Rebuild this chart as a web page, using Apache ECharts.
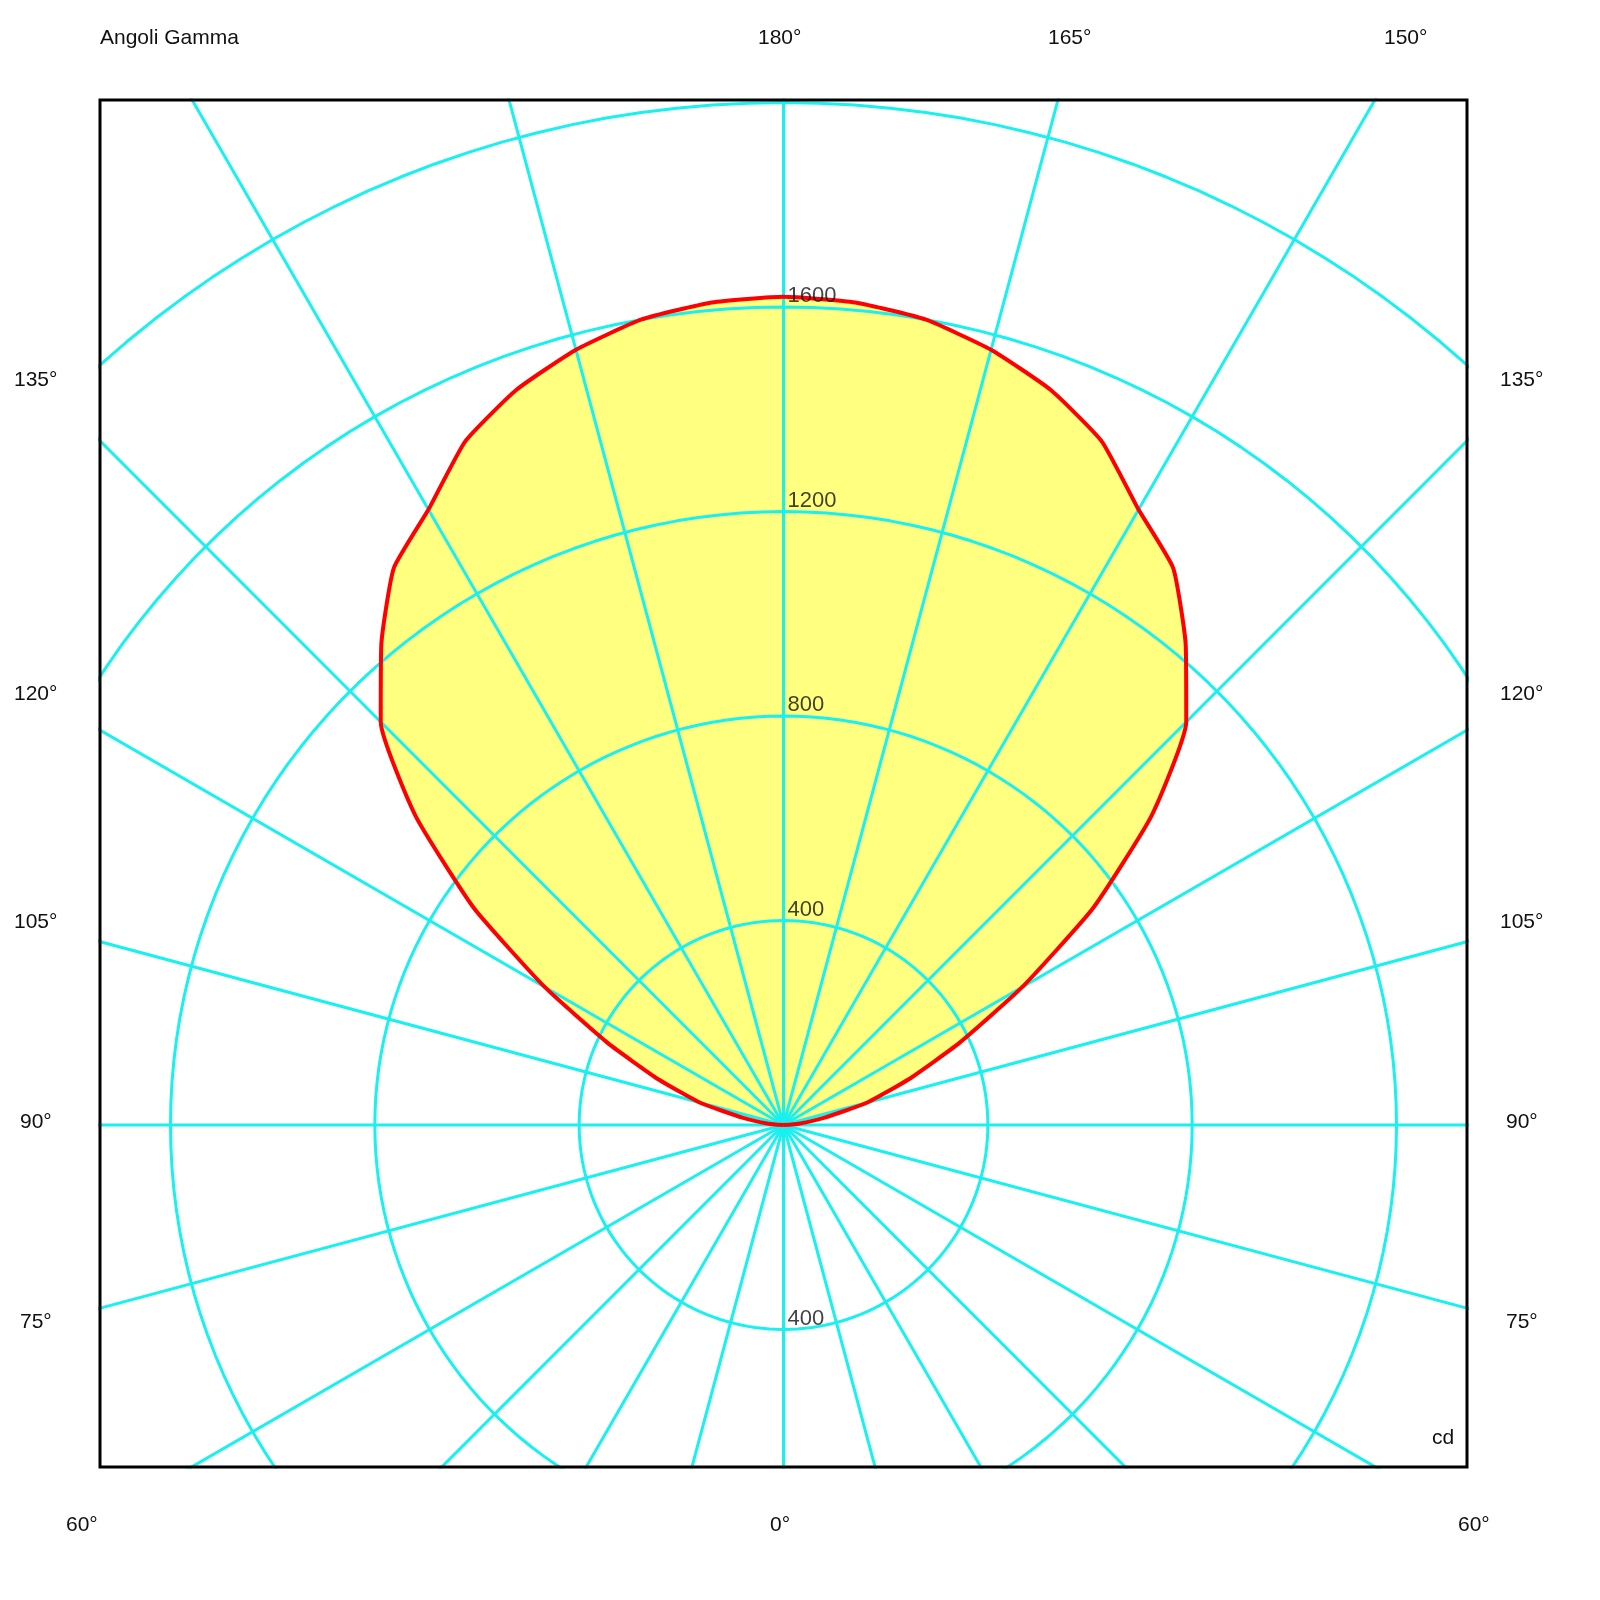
<!DOCTYPE html>
<html>
<head>
<meta charset="utf-8">
<script src="https://cdn.jsdelivr.net/npm/echarts@6/dist/echarts.min.js"></script>
<style>
  html, body { margin: 0; padding: 0; background: #fff; }
  #chart { width: 1600px; height: 1600px; }
</style>
</head>
<body>
<div id="chart"></div>
<script>
(function () {
    'use strict';

    // gamma angles (deg) and luminous intensity (cd), mirrored on both sides
    var gammaAngles = [90, 95, 100, 105, 110, 115, 120, 125, 130, 135, 140, 145, 150, 155, 160, 165, 170, 175, 180];
    var intensity = [0, 30, 80, 170, 260, 380, 540, 740, 940, 1115, 1225, 1330, 1390, 1475, 1530, 1570, 1600, 1615, 1620];
    var ringValues = [400, 800, 1200, 1600, 2000];
    var ringLabels = ['400', '800', '1200', '1600'];
    var spokeStep = 15;

    var rad = Math.PI / 180;
    function toXY(gamma, r, side) {
        return [side * r * Math.sin(gamma * rad), -r * Math.cos(gamma * rad)];
    }

    // left half from centre up to 180, then right half back down to the centre
    var curve = [];
    for (var i = 0; i < gammaAngles.length; i++) {
        curve.push(toXY(gammaAngles[i], intensity[i], -1));
    }
    for (var j = gammaAngles.length - 2; j >= 0; j--) {
        curve.push(toXY(gammaAngles[j], intensity[j], 1));
    }

    var cyan = '#19f0f0';
    var series = [];

    series.push({
        type: 'custom',
        z: 1,
        silent: true,
        data: [0],
        renderItem: function (params, api) {
            var pts = curve.map(function (p) { return api.coord(p); });
            return { type: 'polygon', shape: { points: pts, smooth: 0.15 }, style: { fill: '#ffff80' } };
        }
    });

    ringValues.forEach(function (r) {
        var pts = [];
        for (var a = 0; a <= 360; a += 2) pts.push(toXY(a, r, 1));
        series.push({ type: 'line', z: 2, data: pts, showSymbol: false, silent: true,
            lineStyle: { color: cyan, width: 3 }, clip: true });
    });
    for (var g = 0; g < 360; g += spokeStep) {
        series.push({ type: 'line', z: 2, data: [[0, 0], toXY(g, 4000, 1)], showSymbol: false, silent: true,
            lineStyle: { color: cyan, width: 3 }, clip: true });
    }

    series.push({ type: 'line', z: 4, data: curve, showSymbol: false, silent: true, smooth: 0.15,
        lineStyle: { color: '#ff0000', width: 4 } });

    var labelPts = ringLabels.map(function (t) { return [0, Number(t), t]; });
    labelPts.push([0, -400, '400']);
    series.push({ type: 'scatter', z: 5, symbolSize: 0, silent: true, data: labelPts,
        label: { show: true, position: [4, -22], formatter: function (p) { return p.data[2]; },
            color: '#111', fontSize: 22, fontFamily: 'Liberation Sans' } });

    var txt = function (x, y, s, align) {
        return { type: 'text', left: x, top: y, style: { text: s, fill: '#111', fontSize: 21,
            fontFamily: 'Liberation Sans', textAlign: align || 'left' } };
    };

    var chart = echarts.init(document.getElementById('chart'));
    chart.setOption({
        animation: false,
        backgroundColor: '#fff',
        grid: { left: 100, top: 100, width: 1367, height: 1367, show: true, borderColor: '#000', borderWidth: 3, z: 10 },
        xAxis: { type: 'value', min: -1338, max: 1338, show: false },
        yAxis: { type: 'value', min: -669, max: 2005, show: false },
        series: series,
        graphic: [
            txt(100, 28, 'Angoli Gamma'),
            txt(758, 28, '180°'), txt(1048, 28, '165°'), txt(1384, 28, '150°'),
            txt(14, 370, '135°'), txt(14, 684, '120°'), txt(14, 912, '105°'), txt(20, 1112, '90°'), txt(20, 1312, '75°'),
            txt(1500, 370, '135°'), txt(1500, 684, '120°'), txt(1500, 912, '105°'), txt(1506, 1112, '90°'), txt(1506, 1312, '75°'),
            txt(66, 1515, '60°'), txt(770, 1515, '0°'), txt(1458, 1515, '60°'),
            txt(1432, 1428, 'cd')
        ]
    });
}());
</script>
</body>
</html>
